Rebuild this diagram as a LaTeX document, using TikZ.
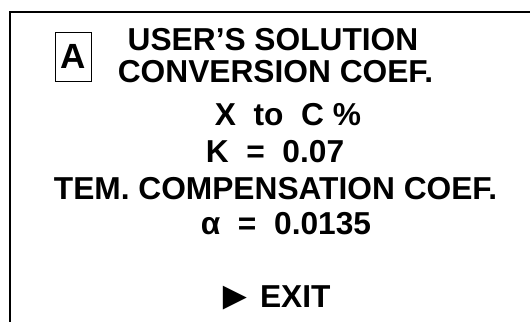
\documentclass[tikz,border=0pt]{standalone}
\usepackage{fontspec}
\setmainfont{Liberation Sans}

\begin{document}
\begin{tikzpicture}[x=1pt,y=-1pt,thick,
    frame/.style={line width=1.6pt},
    line/.style={font=\bfseries\fontsize{31.7}{36}\selectfont,anchor=base,inner sep=0pt},
    tag/.style={draw,line width=1pt,minimum width=36pt,minimum height=49pt,inner sep=0pt,font=\bfseries\fontsize{35}{40}\selectfont}]

                \useasboundingbox (0,0) rectangle (530,322);

                % screen edge
                \coordinate (tl) at (10,12);
                \coordinate (tr) at (530,12);
                \coordinate (bl) at (10,322);
                \draw[frame] (tr) -- (tl) -- (bl);

                \node[tag] (mode) at (73,56.5) {A};

                \node[line] (user) at (273,50) {USER’S SOLUTION};
                \node[line] (conv) at (275.5,82) {CONVERSION COEF.};
                \node[line] (unit) at (288,125) {X\ \ to\ \ C \%};
                \node[line] (kval) at (275,162) {K\ \ =\ \ 0.07};
                \node[line] (temp) at (275.5,199) {TEM. COMPENSATION COEF.};
                \node[line] (aval) at (286,234) {α\ \ =\ \ 0.0135};
                \node[line] (exit) at (273,307) {\raisebox{-2pt}{\fontsize{40}{40}\selectfont ►}\hspace{5pt}EXIT};

                ;
            \end{tikzpicture}
\end{document}
